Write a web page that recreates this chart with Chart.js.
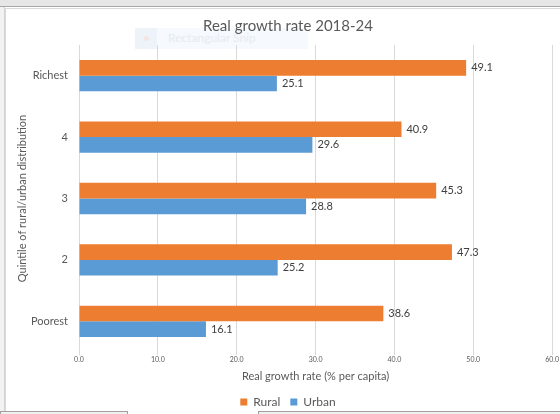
<!DOCTYPE html>
<html lang="en">
<head>
  <meta charset="UTF-8">
  <title>Real growth rate 2018-24</title>
  <script src="https://cdn.jsdelivr.net/npm/chart.js"></script>
  <style>
    html, body {
      margin: 0;
      padding: 0;
      width: 560px;
      height: 414px;
      overflow: hidden;
      background: #fff;
      font-family: Lato, sans-serif;
    }
    .topbar {
      position: absolute; left: 0; top: 0; width: 560px; height: 6px;
      background: #e6e6e6; border-bottom: 1px solid #a6a6a6;
    }
    .leftbar {
      position: absolute; left: 0; top: 7px; width: 4px; height: 407px;
      background: #f2f2f2; border-right: 1px solid #d4d4d4;
    }
    .frame {
      position: absolute; left: 5px; top: 8px; width: 560px; height: 410px;
      border-left: 1px solid #d9d9d9; border-top: 1px solid #d9d9d9;
    }
    .wrap {
      position: absolute; left: 6px; top: 9px; width: 554px; height: 409px;
    }
    .snip {
      position: absolute; left: 135px; top: 28px; width: 173px; height: 21px;
      background: #f6f9fd; pointer-events: none;
    }
    .snip .icon {
      position: absolute; left: 0; top: 0; width: 22px; height: 21px; background: #eef3fa;
    }
    .snip .icon::after {
      content: ''; position: absolute; left: 9px; top: 8px; width: 5px; height: 5px;
      border-radius: 50%; background: #f3e6e2;
    }
    .snip span {
      position: absolute; left: 33px; top: 2px; font-size: 12px; color: #e6ebf3;
    }
    .bottombox {
      position: absolute; top: 411px; height: 3px;
      background: #f0f0f0; border: 1px solid #a0a0a0; border-bottom: none;
    }
  </style>
</head>
<body>
  <div class="topbar"></div>
  <div class="leftbar"></div>
  <div class="frame"></div>
  <div class="snip"><div class="icon"></div><span>Rectangular Snip</span></div>
  <div class="wrap"><canvas id="chart"></canvas></div>
  <div class="bottombox" style="left:0;width:126px"></div>
  <div class="bottombox" style="left:258px;width:310px"></div>

  <script>
    const quintiles = ['Richest', '4', '3', '2', 'Poorest'];
    const rural = [49.1, 40.9, 45.3, 47.3, 38.6];
    const urban = [25.1, 29.6, 28.8, 25.2, 16.1];

    const textColor = '#595959';

    // value labels at the end of each bar
    const barLabels = {
      id: 'barLabels',
      afterDatasetsDraw(chart) {
        const ctx = chart.ctx;
        ctx.save();
        ctx.font = '11px Lato, sans-serif';
        ctx.fillStyle = '#404040';
        ctx.textAlign = 'left';
        ctx.textBaseline = 'middle';
        chart.data.datasets.forEach((ds, i) => {
          chart.getDatasetMeta(i).data.forEach((bar, j) => {
            ctx.fillText(ds.data[j].toFixed(1), bar.x + 5, bar.y);
          });
        });
        ctx.restore();
      }
    };

    new Chart(document.getElementById('chart'), {
      type: 'bar',
      data: {
        labels: quintiles,
        datasets: [
          { label: 'Rural', data: rural, backgroundColor: '#ED7D31' },
          { label: 'Urban', data: urban, backgroundColor: '#5B9BD5' }
        ]
      },
      options: {
        indexAxis: 'y',
        responsive: true,
        maintainAspectRatio: false,
        animation: false,
        devicePixelRatio: 1,
        categoryPercentage: 0.51,
        barPercentage: 1.0,
        layout: { padding: { left: 10, right: 0, top: 8, bottom: 0 } },
        plugins: {
          title: {
            display: true,
            text: 'Real growth rate 2018-24',
            color: textColor,
            font: { family: 'Lato', size: 15, weight: 'normal' },
            padding: { top: 0, bottom: 10 }
          },
          legend: {
            position: 'bottom',
            labels: {
              color: textColor,
              font: { family: 'Lato', size: 12 },
              boxWidth: 7,
              boxHeight: 7,
              padding: 10
            }
          },
          tooltip: { enabled: false }
        },
        scales: {
          x: {
            min: 0,
            max: 60,
            afterFit: s => { s.height = 34; },
            ticks: {
              stepSize: 10,
              color: textColor,
              font: { family: 'Lato', size: 7 },
              callback: v => v.toFixed(1),
              padding: 1
            },
            grid: { color: '#d9d9d9', tickLength: 3 },
            border: { display: false },
            title: {
              display: true,
              text: 'Real growth rate (% per capita)',
              color: textColor,
              font: { family: 'Lato', size: 11 },
              padding: { top: 0, bottom: 3 }
            }
          },
          y: {
            afterFit: s => { s.width = 63; },
            ticks: {
              color: textColor,
              font: { family: 'Lato', size: 11 },
              padding: 3
            },
            grid: { display: false },
            border: { color: '#d9d9d9' },
            title: {
              display: true,
              text: 'Quintile of rural/urban distribution',
              color: textColor,
              font: { family: 'Lato', size: 11 },
              padding: { top: 0, bottom: 0 }
            }
          }
        }
      },
      plugins: [barLabels]
    });
  </script>
</body>
</html>
